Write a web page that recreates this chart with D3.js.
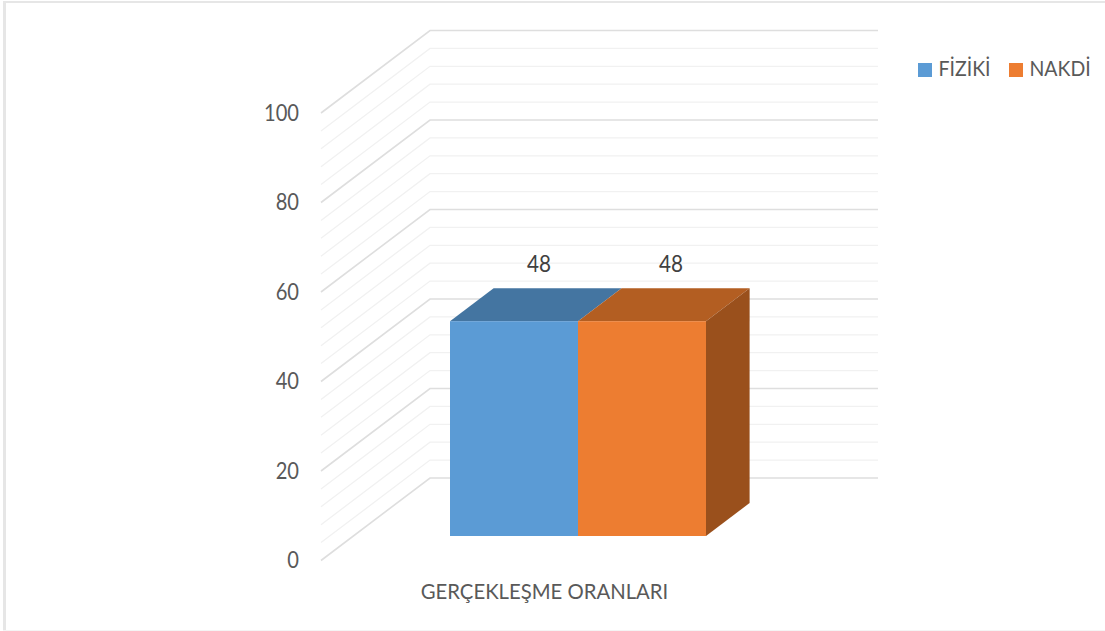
<!DOCTYPE html>
<html><head>
<meta charset="utf-8">
<title>GERÇEKLEŞME ORANLARI</title>
<script src="https://d3js.org/d3.v7.min.js"></script>
<style>
  html, body { margin: 0; padding: 0; background: #fff; }
  svg { display: block; }
  text { font-family: Lato, "Open Sans", sans-serif; fill: #595959; }
</style>
</head>
<body>
<svg id="chart" width="1105" height="631"></svg>
<script>
// data
let categories = ["GERÇEKLEŞME ORANLARI"];
let seriesNames = ["FİZİKİ", "NAKDİ"];
let seriesValues = [48, 48];
let seriesLabels = ["48", "48"];
let tickValues = [0, 20, 40, 60, 80, 100];
let gridValues = d3.range(0, 101, 4);

let frontColors = ["#5b9bd5", "#ed7d31"];
let topColors = ["#4475a1", "#b35e22"];
let sideColor = "#9a501c";

let svg = d3.select("#chart");

// Lato runs wider than the original font, so squeeze it a bit
function squeeze(sel, factor) {
  sel.each(function() {
    this.setAttribute("lengthAdjust", "spacingAndGlyphs");
    this.setAttribute("textLength", this.getComputedTextLength() * factor);
  });
}

// frame of the pasted chart
svg.append("rect").attr("x", 3).attr("y", 1).attr("width", 1102).attr("height", 2).style("fill", "#e6e6e6");
svg.append("rect").attr("x", 3).attr("y", 1).attr("width", 3).attr("height", 630).style("fill", "#e6e6e6");
svg.append("rect").attr("x", 3).attr("y", 630).attr("width", 1102).attr("height", 1).style("fill", "#f4f4f4");

// scales, the floor runs back by (depthX, depthY) from the front edge
let yScale = d3.scaleLinear().domain([0, 100]).range([560.5, 113]);
let xScale = d3.scaleBand().domain(seriesNames).range([450, 706]);
let depthX = 109, depthY = -82.5;
let wallLeft = 321, wallRight = 878;
let barDepth0 = 0.297, barDepth1 = 0.697;

// gridlines on side wall and back wall
gridValues.forEach(function(d) {
  let major = d % 20 === 0;
  let y0 = yScale(d);
  svg.append("polyline")
    .attr("points", [
      [wallLeft, y0],
      [wallLeft + depthX, y0 + depthY],
      [wallRight, y0 + depthY]
    ].join(" "))
    .style("fill", "none")
    .style("stroke", major ? "#dedede" : "#f1f1f1")
    .style("stroke-width", major ? 1.6 : 1.3);
});

// y axis
let axis = d3.axisLeft(yScale).tickValues(tickValues).tickSize(0).tickPadding(22);
let axisG = svg.append("g").attr("transform", "translate(" + wallLeft + ",0)").call(axis);
axisG.select(".domain").remove();
axisG.selectAll("text")
  .style("font-size", "23px")
  .style("font-family", "Lato, sans-serif")
  .style("fill", "#595959")
  .call(squeeze, 0.875);

// bars, one box each
function pts(list) { return list.map(function(p) { return p.join(","); }).join(" "); }

seriesNames.forEach(function(name, i) {
  let v = seriesValues[i];
  let x0 = xScale(name), x1 = x0 + xScale.bandwidth();
  let yTop = yScale(v) + depthY * barDepth0;
  let yBase = yScale(0) + depthY * barDepth0;
  let dx = depthX * (barDepth1 - barDepth0);
  let dy = depthY * (barDepth1 - barDepth0);

  // top face
  svg.append("polygon")
    .attr("points", pts([[x0, yTop], [x1, yTop], [x1 + dx, yTop + dy], [x0 + dx, yTop + dy]]))
    .style("fill", topColors[i]);

  // side face only shows on the last bar
  if (i === seriesNames.length - 1) {
    svg.append("polygon")
      .attr("points", pts([[x1, yTop], [x1 + dx, yTop + dy], [x1 + dx, yBase + dy], [x1, yBase]]))
      .style("fill", sideColor);
  }

  svg.append("rect")
    .attr("x", x0).attr("y", yTop)
    .attr("width", x1 - x0).attr("height", yBase - yTop)
    .style("fill", frontColors[i]);

  // value label
  svg.append("text")
    .attr("x", (x0 + x1) / 2 + 25 + i * 4)
    .attr("y", yTop - 49)
    .attr("text-anchor", "middle")
    .style("font-size", "23px")
    .style("fill", "#404040")
    .text(seriesLabels[i])
    .call(squeeze, 0.9);
});

// category label
svg.append("text")
  .attr("x", 544.5).attr("y", 599)
  .attr("text-anchor", "middle")
  .style("font-size", "20.5px")
  .text(categories[0])
  .call(squeeze, 0.99);

// legend
let legendX = [918, 1009];
seriesNames.forEach(function(name, i) {
  svg.append("rect")
    .attr("x", legendX[i]).attr("y", 63)
    .attr("width", 14).attr("height", 14)
    .style("fill", frontColors[i]);
  svg.append("text")
    .attr("x", legendX[i] + 20.5).attr("y", 76)
    .style("font-size", "20.5px")
    .text(name)
    .call(squeeze, 0.95);
});
</script>
</body></html>
